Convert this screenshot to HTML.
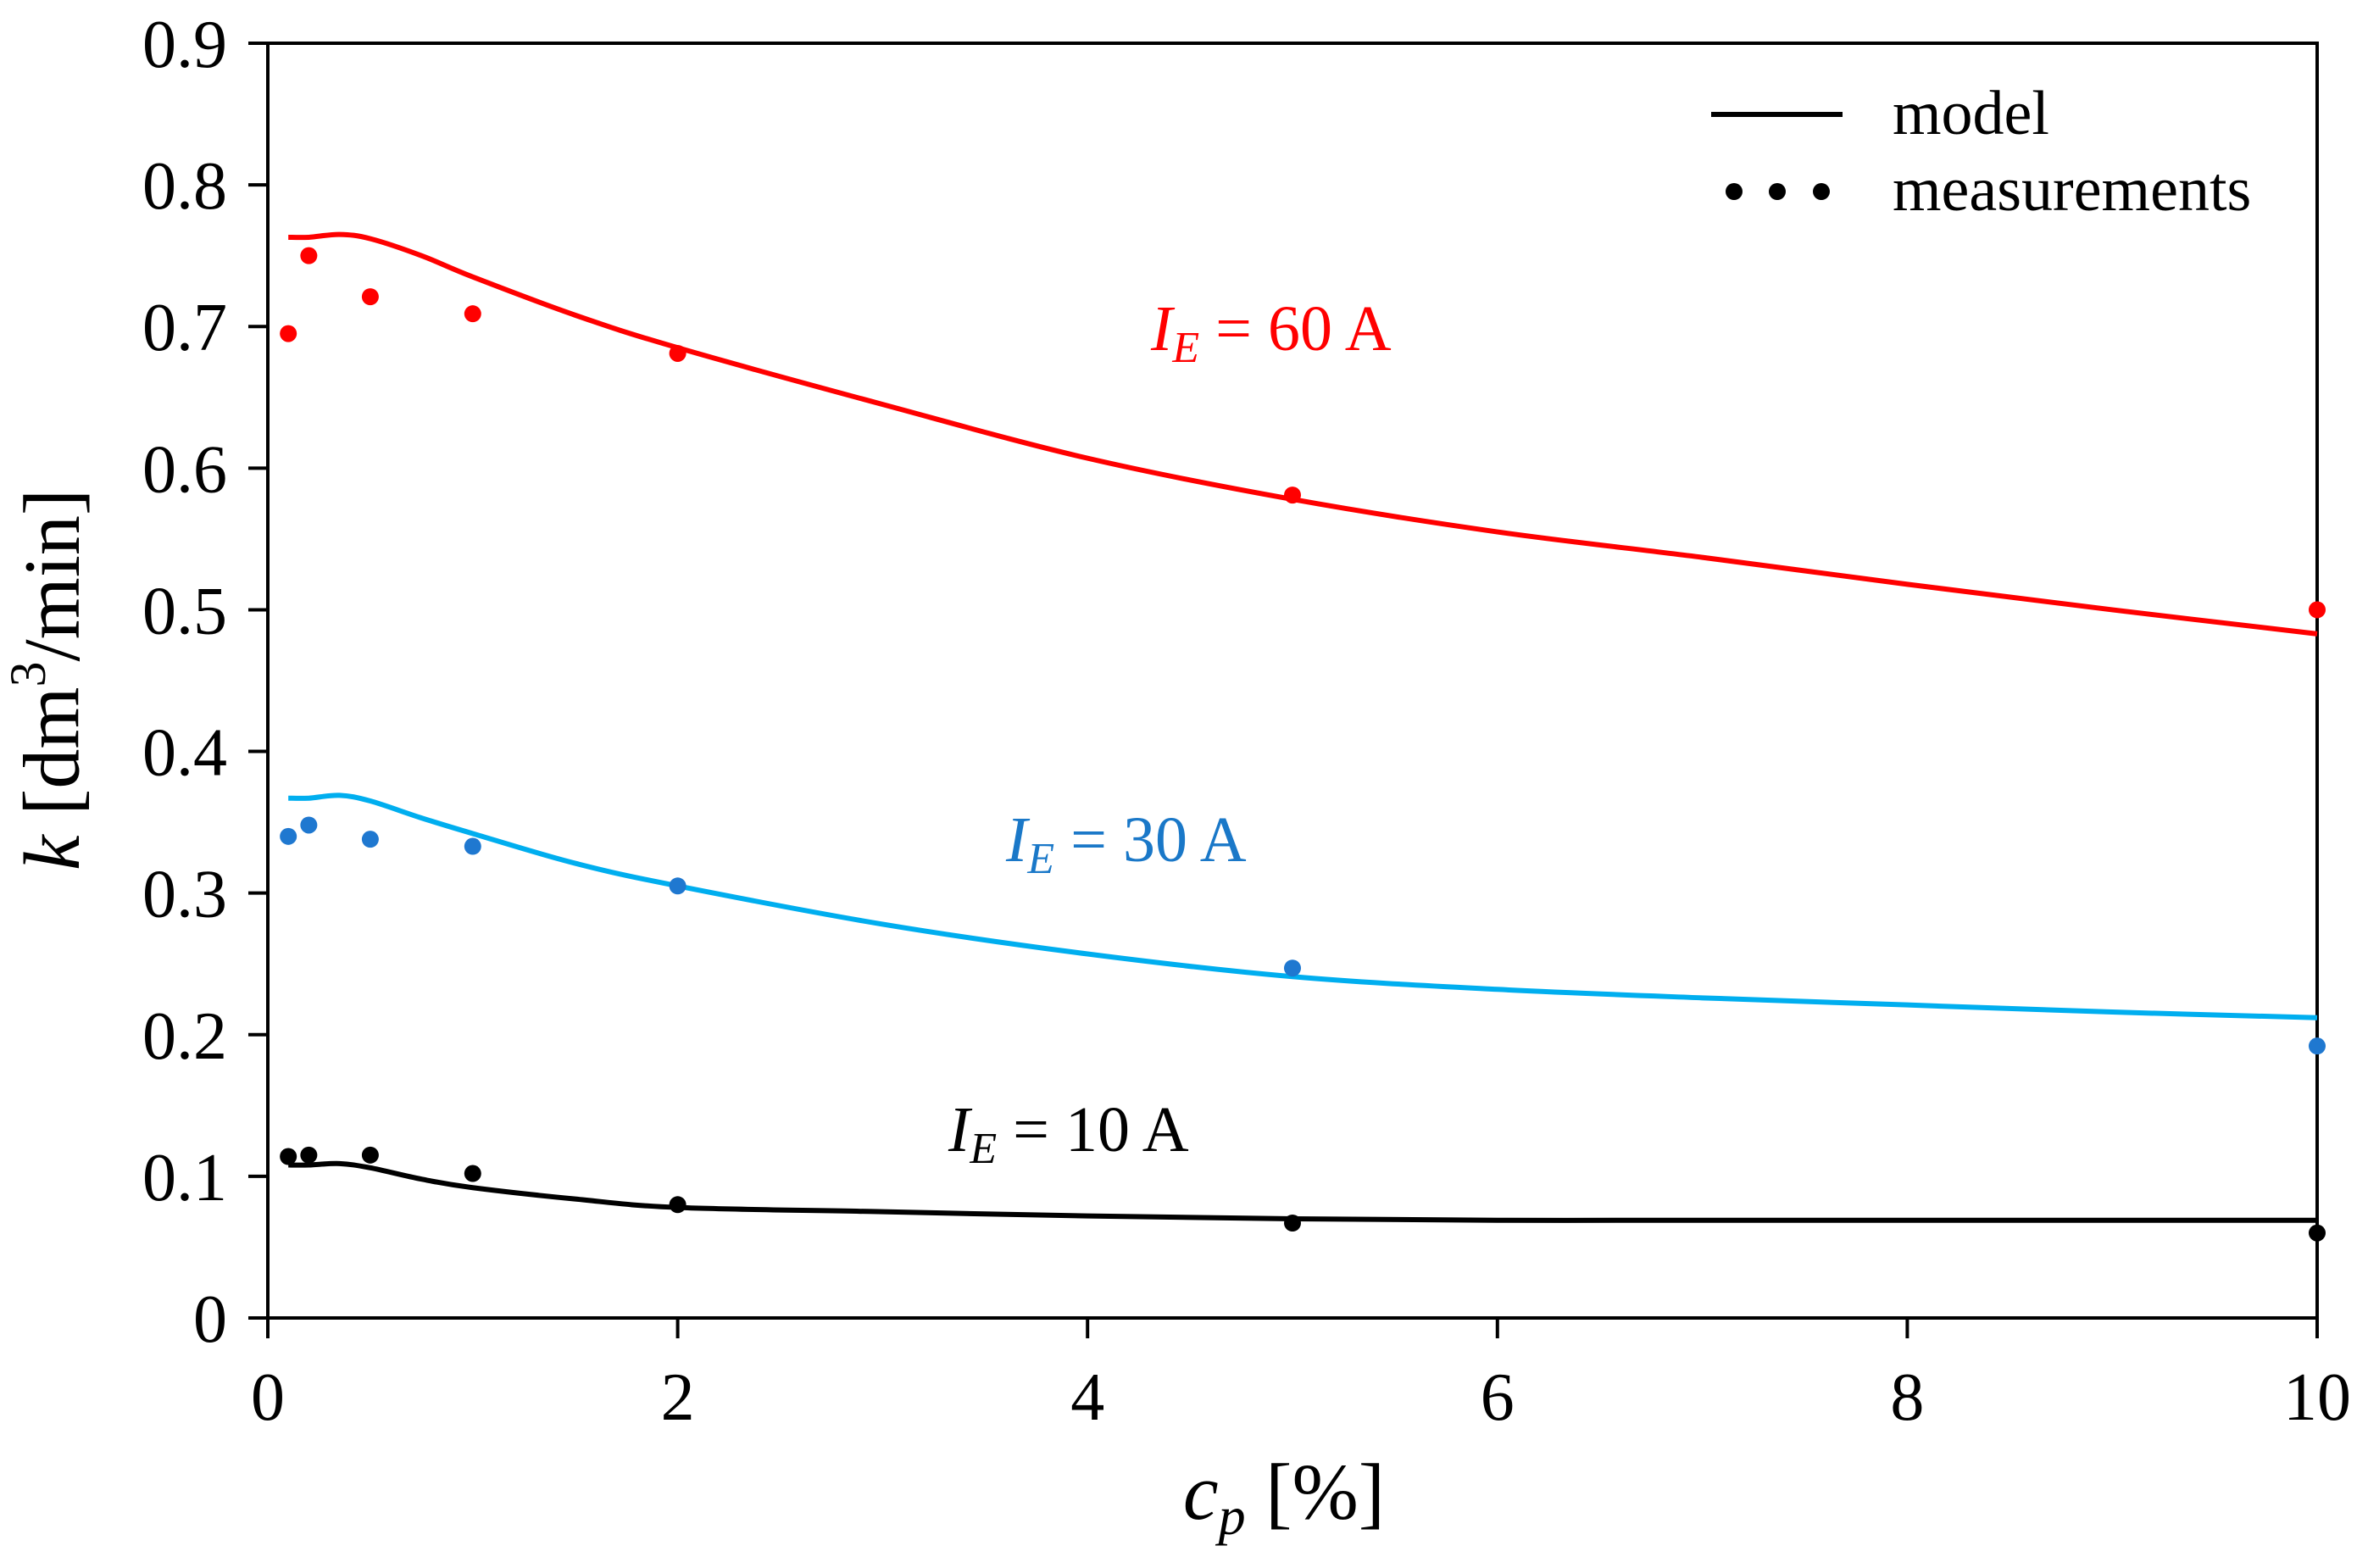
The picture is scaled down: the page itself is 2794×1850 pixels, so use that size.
<!DOCTYPE html>
<html><head><meta charset="utf-8"><style>
html,body{margin:0;padding:0;background:#fff;}
svg{display:block;font-family:"Liberation Serif","Times New Roman",serif;}
</style></head><body>
<svg id="chart" width="2794" height="1850" viewBox="0 0 2794 1850">
<g id="axes"></g>
<g id="series"></g>
<text x="71" y="802" font-size="94" text-anchor="middle" dominant-baseline="middle" transform="rotate(-90 71 802)"><tspan font-style="italic">k</tspan> [dm<tspan font-size="60" dy="-32">3</tspan><tspan dy="32">/min]</tspan></text>
<text x="1515" y="1792" font-size="94" text-anchor="middle"><tspan font-style="italic">c</tspan><tspan font-style="italic" font-size="64" dy="18">p</tspan><tspan dy="-18"> [%]</tspan></text>
<g>
<line x1="2019" y1="135" x2="2174" y2="135" stroke="#000" stroke-width="6"/>
<text x="2233" y="158" font-size="74">model</text>
<circle cx="2046" cy="226" r="10" fill="#000"/>
<circle cx="2097" cy="226" r="10" fill="#000"/>
<circle cx="2149" cy="226" r="10" fill="#000"/>
<text x="2233" y="248" font-size="74">measurements</text>
</g>
<text x="1358" y="413" font-size="76" fill="#ff0000"><tspan font-style="italic">I</tspan><tspan font-style="italic" font-size="52" dy="14">E</tspan><tspan dy="-14"> = 60 A</tspan></text>
<text x="1187" y="1016" font-size="76" fill="#1a78c8"><tspan font-style="italic">I</tspan><tspan font-style="italic" font-size="52" dy="14">E</tspan><tspan dy="-14"> = 30 A</tspan></text>
<text x="1119" y="1358" font-size="76" fill="#000"><tspan font-style="italic">I</tspan><tspan font-style="italic" font-size="52" dy="14">E</tspan><tspan dy="-14"> = 10 A</tspan></text>
</svg>
<script>
const xTicks=[0,2,4,6,8,10];
const yTicks=[0,0.1,0.2,0.3,0.4,0.5,0.6,0.7,0.8,0.9];
const yTickLabels=["0","0.1","0.2","0.3","0.4","0.5","0.6","0.7","0.8","0.9"];
const measX=[0.1,0.2,0.5,1,2,5,10];
const meas60=[0.695,0.750,0.721,0.709,0.681,0.581,0.500];
const meas30=[0.340,0.348,0.338,0.333,0.305,0.247,0.192];
const meas10=[0.114,0.115,0.115,0.102,0.080,0.067,0.060];
const modelX=[0.1,0.2,0.35,0.5,0.75,1,1.5,2,3,4,5,6,7,8,9,10];
const model60=[0.763,0.763,0.765,0.762,0.750,0.735,0.708,0.685,0.645,0.607,0.578,0.555,0.537,0.518,0.500,0.483];
const model30=[0.367,0.367,0.369,0.365,0.353,0.342,0.321,0.305,0.278,0.257,0.241,0.232,0.226,0.221,0.216,0.212];
const model10=[0.108,0.108,0.109,0.106,0.098,0.092,0.084,0.078,0.075,0.072,0.070,0.069,0.069,0.069,0.069,0.069];

const X0=316,X1=2734,Y0=1555,Y1=51;
const sx=v=>X0+(v/10)*(X1-X0);
const sy=v=>Y0-(v/0.9)*(Y0-Y1);
const NS="http://www.w3.org/2000/svg";
const axes=document.getElementById('axes'), series=document.getElementById('series');
function mk(tag,attrs,parent){const e=document.createElementNS(NS,tag);for(const k in attrs)e.setAttribute(k,attrs[k]);parent.appendChild(e);return e;}

const frame=mk('rect',{x:X0,y:Y1,width:X1-X0,height:Y0-Y1,fill:'none',stroke:'#000','stroke-width':4},axes);


xTicks.forEach(t=>{
  const l=mk('line',{x1:sx(t),x2:sx(t),y1:Y0,y2:Y0+24,stroke:'#000','stroke-width':4},axes);
  
  
  const tx=mk('text',{x:sx(t),y:Y0+120,'font-size':80,'text-anchor':'middle'},axes);
  tx.textContent=String(t);
  
  
});
yTicks.forEach((t,i)=>{
  const l=mk('line',{x1:X0-23,x2:X0,y1:sy(t),y2:sy(t),stroke:'#000','stroke-width':4},axes);
  
  
  const tx=mk('text',{x:X0-48,y:sy(t)+28,'font-size':80,'text-anchor':'end'},axes);
  tx.textContent=yTickLabels[i];
  
  
});
function smoothPath(xs,ys){
  const p=xs.map((x,i)=>[sx(x),sy(ys[i])]);
  let d='M'+p[0][0]+','+p[0][1];
  for(let i=0;i<p.length-1;i++){
    const p0=p[Math.max(0,i-1)],p1=p[i],p2=p[i+1],p3=p[Math.min(p.length-1,i+2)];
    const c1=[p1[0]+(p2[0]-p0[0])/6,p1[1]+(p2[1]-p0[1])/6];
    const c2=[p2[0]-(p3[0]-p1[0])/6,p2[1]-(p3[1]-p1[1])/6];
    d+=' C'+c1[0]+','+c1[1]+' '+c2[0]+','+c2[1]+' '+p2[0]+','+p2[1];
  }
  return d;
}
const defs=[
 {m:model60,d:meas60,lc:'#ff0000',dc:'#ff0000',n:'60a'},
 {m:model30,d:meas30,lc:'#00aeef',dc:'#1f78d0',n:'30a'},
 {m:model10,d:meas10,lc:'#000000',dc:'#000000',n:'10a'}];
defs.forEach(s=>{
  const path=mk('path',{d:smoothPath(modelX,s.m),fill:'none',stroke:s.lc,'stroke-width':6,'stroke-linejoin':'round'},series);
  
  
  measX.forEach((x,i)=>{
    const c=mk('circle',{cx:sx(x),cy:sy(s.d[i]),r:10,fill:s.dc},series);
    
    
  });
});
</script>
</body></html>
